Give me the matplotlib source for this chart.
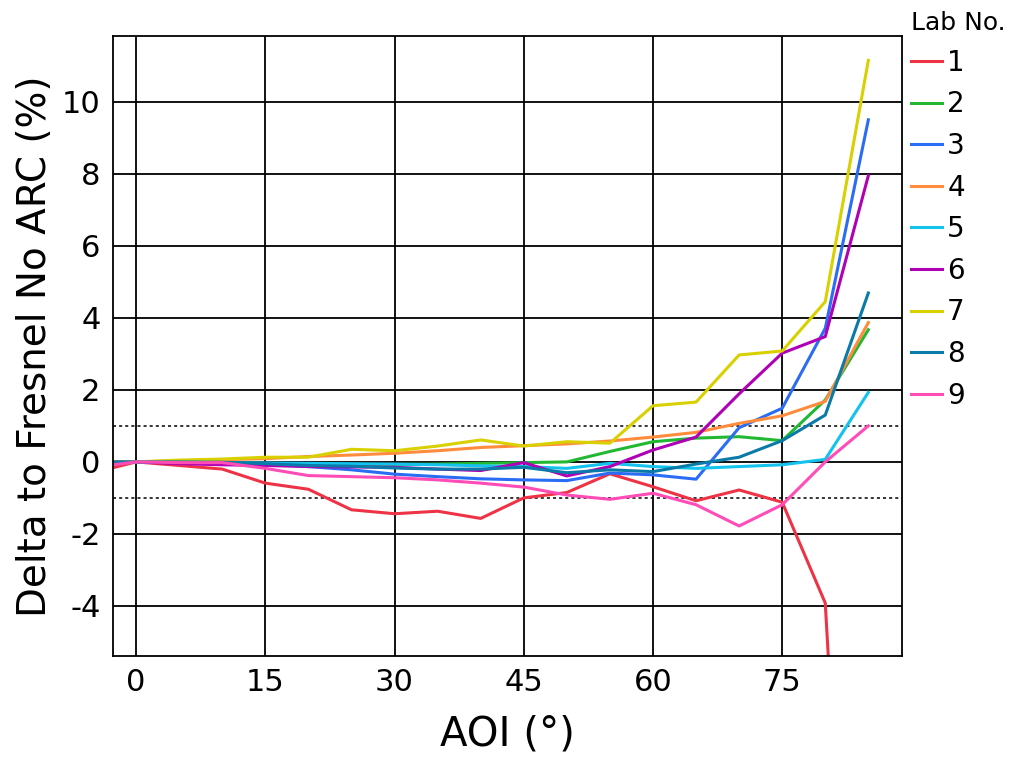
import matplotlib
matplotlib.use("Agg")
import matplotlib.pyplot as plt
import numpy as np

plt.rcParams["axes.unicode_minus"] = False

# angle of incidence (deg)
aoi = [-5, 0, 5, 10, 15, 20, 25, 30, 35, 40, 45, 50, 55, 60, 65, 70, 75, 80, 85]

# delta to Fresnel (no ARC), % , per lab
lab1 = [-0.30, 0, -0.10, -0.20, -0.59, -0.76, -1.33, -1.44, -1.37, -1.57, -1.00, -0.85, -0.33, -0.69, -1.08, -0.78, -1.12, -3.92, -25.0]
lab2 = [0, 0, -0.02, -0.04, -0.06, -0.08, -0.08, -0.07, -0.06, -0.04, -0.02, 0.00, 0.29, 0.56, 0.66, 0.70, 0.59, 1.72, 3.67]
lab3 = [0, 0, -0.01, -0.03, -0.06, -0.13, -0.22, -0.34, -0.41, -0.47, -0.50, -0.52, -0.31, -0.36, -0.48, 0.95, 1.49, 3.71, 9.50]
lab4 = [0, 0, 0.03, 0.06, 0.09, 0.15, 0.19, 0.24, 0.31, 0.40, 0.45, 0.50, 0.58, 0.69, 0.82, 1.07, 1.28, 1.68, 3.87]
lab5 = [0, 0, -0.01, -0.02, -0.03, -0.04, -0.05, -0.06, -0.08, -0.11, -0.13, -0.18, -0.04, -0.13, -0.18, -0.13, -0.08, 0.07, 1.93]
lab6 = [0, 0, -0.05, -0.08, -0.10, -0.13, -0.14, -0.15, -0.20, -0.24, -0.02, -0.39, -0.13, 0.33, 0.69, 1.89, 3.02, 3.48, 7.95]
lab7 = [0, 0, 0.05, 0.08, 0.13, 0.13, 0.35, 0.31, 0.44, 0.61, 0.44, 0.56, 0.52, 1.56, 1.66, 2.97, 3.08, 4.45, 11.15]
lab8 = [0, 0, 0.00, -0.01, -0.05, -0.10, -0.12, -0.17, -0.20, -0.20, -0.15, -0.30, -0.22, -0.27, -0.06, 0.13, 0.59, 1.30, 4.69]
lab9 = [-0.15, 0, -0.02, -0.02, -0.18, -0.38, -0.41, -0.44, -0.50, -0.59, -0.70, -0.92, -1.04, -0.87, -1.19, -1.78, -1.19, 0.00, 1.00]

labs = [lab1, lab2, lab3, lab4, lab5, lab6, lab7, lab8, lab9]
names = ["1", "2", "3", "4", "5", "6", "7", "8", "9"]
colors = ["#ee3346", "#22b833", "#2b6cf5", "#ff8c3c", "#14c2ee",
          "#b000b5", "#d9d000", "#0a7aa8", "#ff4cb6"]

xticks = [0, 15, 30, 45, 60, 75]
yticks = [-4, -2, 0, 2, 4, 6, 8, 10]

fig = plt.figure(figsize=(10.1, 7.58), dpi=100)
ax = fig.add_axes([0.112, 0.1346, 0.781, 0.818])

for v in xticks:
    ax.axvline(v, color="black", lw=1.3, zorder=1)
for v in yticks:
    ax.axhline(v, color="black", lw=1.3, zorder=1)
for v in (-1, 1):
    ax.axhline(v, color="black", lw=1.1, ls=(0, (2, 2)), zorder=1)

for y, name, c in zip(labs, names, colors):
    ax.plot(aoi, y, color=c, lw=2.2, label=name, zorder=2)

ax.set_xlim(-2.67, 88.9)
ax.set_ylim(-5.39, 11.83)
ax.set_xticks(xticks)
ax.set_yticks(yticks)
ax.tick_params(length=0, labelsize=22, pad=9)
for s in ax.spines.values():
    s.set_linewidth(1.3)

ax.set_xlabel("AOI (°)", fontsize=29, labelpad=12)
ax.set_ylabel("Delta to Fresnel No ARC (%)", fontsize=28, labelpad=6)

fig.legend(loc="upper left", bbox_to_anchor=(0.891, 1.0), frameon=False,
           title="Lab No.", title_fontsize=18, fontsize=20,
           handlelength=1.1, handletextpad=0.2, labelspacing=0.49,
           borderaxespad=0, alignment="left")

fig.savefig("out.png", dpi=100)
